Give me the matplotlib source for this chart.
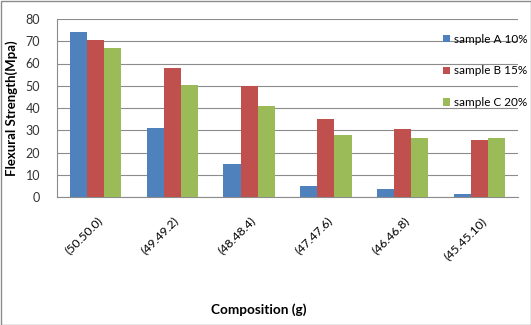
import matplotlib
matplotlib.use("Agg")
import matplotlib.pyplot as plt
import matplotlib.transforms as mtransforms
import numpy as np
from matplotlib.patches import Rectangle

categories = ["(50.50.0)", "(49.49.2)", "(48.48.4)", "(47.47.6)", "(46.46.8)", "(45.45.10)"]
sample_a = [74.0, 30.9, 14.8, 5.1, 3.4, 1.2]
sample_b = [70.4, 58.0, 49.9, 35.2, 30.6, 25.8]
sample_c = [67.1, 50.2, 40.9, 28.0, 26.7, 26.4]
series_names = ["sample A 10%", "sample B 15%", "sample C 20%"]
colors = ["#4F81BD", "#C0504D", "#9BBB59"]
yticks = [0, 10, 20, 30, 40, 50, 60, 70, 80]

plt.rcParams['font.family'] = ['Lato', 'DejaVu Sans']

fig = plt.figure(figsize=(5.31, 3.25), dpi=100)
ax = fig.add_axes([57/531, 1-197/325, (518-57)/531, (197-19)/325])

x = np.arange(len(categories))
w = 0.222
for i, (vals, name, c) in enumerate(zip([sample_a, sample_b, sample_c], series_names, colors)):
    ax.bar(x + (i-1)*w, vals, width=w, color=c, label=name, zorder=3)

ax.set_xlim(-0.5, len(categories)-0.5)
ax.set_ylim(0, 80)
ax.set_yticks(yticks)
ax.yaxis.grid(True, color="#8c8c8c", linewidth=0.8, zorder=0)
ax.tick_params(axis='y', length=0, labelsize=9, pad=12, colors="#333333")
ax.tick_params(axis='x', length=0, labelsize=8.8, pad=13)
ax.set_xticks(x)
ax.set_xticklabels(categories, rotation=45, ha='right', va='top', rotation_mode='anchor')
offset = mtransforms.ScaledTranslation(1/100, 0, fig.dpi_scale_trans)
for lab in ax.get_xticklabels():
    lab.set_transform(lab.get_transform() + offset)
for s in ['top', 'right']:
    ax.spines[s].set_visible(False)
ax.spines['bottom'].set_color("#8c8c8c")
ax.spines['left'].set_color("#8c8c8c")
ax.spines['bottom'].set_linewidth(0.8)
ax.spines['left'].set_linewidth(0.8)

fig.text(12/531, 1-108/325, "Flexural Strength(Mpa)", rotation=90, ha='center', va='center',
         fontsize=9.5, fontweight='bold')
fig.text(259/531, 1-310/325, "Composition (g)", ha='center', va='center',
         fontsize=9.8, fontweight='bold')

leg = ax.legend(loc='upper right', bbox_to_anchor=(1.025, 0.93), frameon=True, fontsize=8.5,
                handlelength=0.6, handleheight=0.6, handletextpad=0.3, labelspacing=1.75,
                borderaxespad=0, borderpad=0.2)
leg.get_frame().set_facecolor('white')
leg.get_frame().set_edgecolor('none')
leg.get_frame().set_alpha(0)

fig.patches.append(Rectangle((0.5/531, 0.5/325), 1-1/531, 1-1/325, transform=fig.transFigure,
                             fill=False, edgecolor="#8c8c8c", linewidth=1))

fig.savefig("out.png", dpi=100)
